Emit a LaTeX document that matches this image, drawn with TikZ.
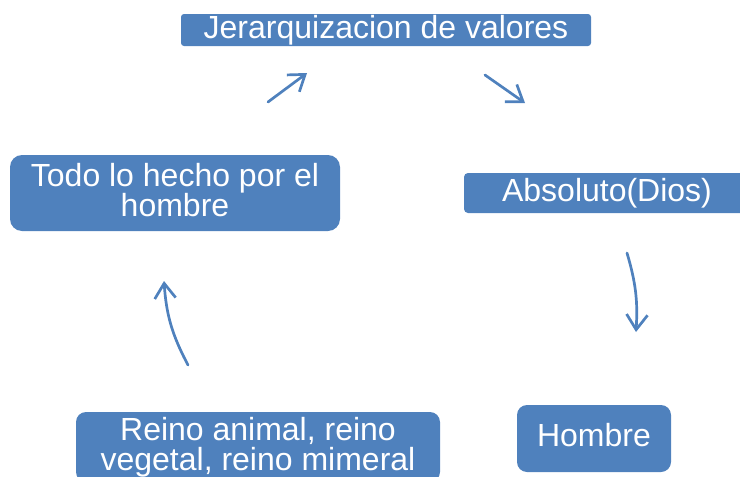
\documentclass[tikz,border=0pt]{standalone}
\usepackage{fontspec}
\setmainfont{Liberation Sans}
\usetikzlibrary{arrows.meta}
\definecolor{azul}{HTML}{4F81BD}
\begin{document}
\begin{tikzpicture}[x=1pt,y=-1pt,
  caja/.style={fill=azul,text=white,inner sep=0pt,align=center,font=\fontsize{32}{30}\selectfont},
  flecha/.style={azul,line width=2.7pt,line cap=round,-{Straight Barb[length=15pt,width=21pt]}}]
\useasboundingbox (0,0) rectangle (740,477);

\node[caja,minimum width=410pt,minimum height=32pt,rounded corners=3pt] (jerarquia) at (386,30) {Jerarquizacion de valores};
\node[caja,minimum width=330pt,minimum height=76pt,rounded corners=12pt] (todo) at (175,193) {Todo lo hecho por el\\hombre\vphantom{p}};
\node[caja,minimum width=286pt,minimum height=40pt,rounded corners=4pt] (absoluto) at (607,193) {Absoluto(Dios)};
\node[caja,minimum width=154pt,minimum height=67pt,rounded corners=10pt] (hombre) at (594,438.5) {Hombre\vphantom{p}};
\node[caja,minimum width=364pt,minimum height=70pt,rounded corners=10pt] (reino) at (258,447) {Reino animal, reino\\vegetal, reino mimeral};

% flechas entre las cajas
\coordinate (f1a) at (268,102);
\coordinate (f1b) at (307,73);
\coordinate (f2a) at (485,75);
\coordinate (f2b) at (525,103);
\coordinate (f3a) at (627,253);
\coordinate (f3b) at (636,332);
\coordinate (f4a) at (188,365);
\coordinate (f4b) at (164,281);

\draw[flecha] (f1a) -- (f1b);
\draw[flecha] (f2a) -- (f2b);
\draw[flecha] (f3a) to[bend left=10] (f3b);
\draw[flecha] (f4a) to[bend left=12] (f4b);

\end{tikzpicture}
\end{document}
